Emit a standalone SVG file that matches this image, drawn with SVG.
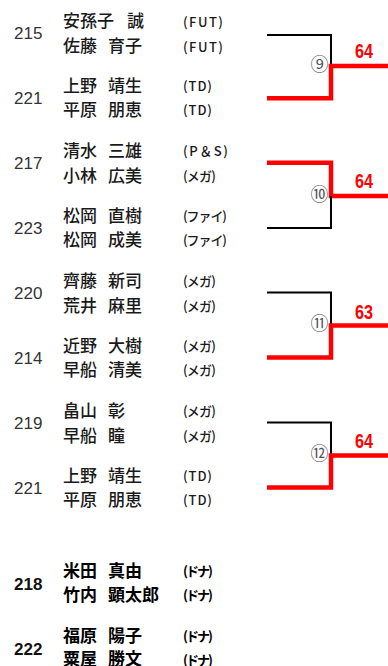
<svg xmlns="http://www.w3.org/2000/svg" width="388" height="666" viewBox="0 0 388 666">
<style>
.num{font-family:"Liberation Sans",Arial,sans-serif;font-size:17px;fill:#333}
.numb{font-family:"Liberation Sans",Arial,sans-serif;font-size:17px;font-weight:bold;fill:#111}
.nm{font-family:"Noto Sans CJK JP","Noto Sans",sans-serif;font-size:17px;font-weight:500;fill:#1a1a1a}
.nmb{font-family:"Noto Sans CJK JP","Noto Sans",sans-serif;font-size:17px;font-weight:bold;fill:#000}
.tag{font-family:"Noto Sans CJK JP","Noto Sans",sans-serif;font-size:13px;font-weight:500;fill:#1a1a1a}
.tagb{font-family:"Noto Sans CJK JP","Noto Sans",sans-serif;font-size:13px;font-weight:bold;fill:#000}
.mno{font-family:"Noto Sans CJK JP","DejaVu Sans",sans-serif;font-size:18px;fill:#555;text-anchor:middle}
.score{font-family:"Liberation Sans",Arial,sans-serif;font-size:20px;font-weight:bold;fill:#ff0000}
.lose{fill:none;stroke:#000;stroke-width:2;stroke-linejoin:miter}
.win{fill:none;stroke:#ff0000;stroke-width:4.5;stroke-linejoin:miter}
</style>
<rect width="388" height="666" fill="#fff"/>

<g id="entry-215">
<text class="num" x="14" y="39">215</text>
<text class="nm" x="63" y="26.5">安孫子</text><text class="nm" x="127" y="26.5">誠</text><text class="tag" x="183" y="26.5" textLength="40">(FUT)</text>
<text class="nm" x="63" y="51.5">佐藤</text><text class="nm" x="108" y="51.5">育子</text><text class="tag" x="183" y="51.5" textLength="40">(FUT)</text>
</g>
<g id="entry-221a">
<text class="num" x="14" y="104">221</text>
<text class="nm" x="63" y="91.5">上野</text><text class="nm" x="108" y="91.5">靖生</text><text class="tag" x="183" y="91" textLength="29">(TD)</text>
<text class="nm" x="63" y="115.5">平原</text><text class="nm" x="108" y="115.5">朋恵</text><text class="tag" x="183" y="115" textLength="29">(TD)</text>
</g>
<g id="entry-217">
<text class="num" x="14" y="169">217</text>
<text class="nm" x="63" y="156.5">清水</text><text class="nm" x="108" y="156.5">三雄</text><text class="tag" x="183" y="156" textLength="45">(P＆S)</text>
<text class="nm" x="63" y="181.5">小林</text><text class="nm" x="108" y="181.5">広美</text><text class="tag" x="183" y="181" textLength="33">(メガ)</text>
</g>
<g id="entry-223">
<text class="num" x="14" y="234">223</text>
<text class="nm" x="63" y="221.5">松岡</text><text class="nm" x="108" y="221.5">直樹</text><text class="tag" x="183" y="221" textLength="44">(ファイ)</text>
<text class="nm" x="63" y="245.5">松岡</text><text class="nm" x="108" y="245.5">成美</text><text class="tag" x="183" y="245" textLength="44">(ファイ)</text>
</g>
<g id="entry-220">
<text class="num" x="14" y="299">220</text>
<text class="nm" x="63" y="286.5">齊藤</text><text class="nm" x="108" y="286.5">新司</text><text class="tag" x="183" y="286" textLength="33">(メガ)</text>
<text class="nm" x="63" y="311.5">荒井</text><text class="nm" x="108" y="311.5">麻里</text><text class="tag" x="183" y="311" textLength="33">(メガ)</text>
</g>
<g id="entry-214">
<text class="num" x="14" y="364">214</text>
<text class="nm" x="63" y="351.5">近野</text><text class="nm" x="108" y="351.5">大樹</text><text class="tag" x="183" y="351" textLength="33">(メガ)</text>
<text class="nm" x="63" y="375.5">早船</text><text class="nm" x="108" y="375.5">清美</text><text class="tag" x="183" y="375" textLength="33">(メガ)</text>
</g>
<g id="entry-219">
<text class="num" x="14" y="429">219</text>
<text class="nm" x="63" y="416.5">畠山</text><text class="nm" x="108" y="416.5">彰</text><text class="tag" x="183" y="416" textLength="33">(メガ)</text>
<text class="nm" x="63" y="441.5">早船</text><text class="nm" x="108" y="441.5">瞳</text><text class="tag" x="183" y="441" textLength="33">(メガ)</text>
</g>
<g id="entry-221b">
<text class="num" x="14" y="494">221</text>
<text class="nm" x="63" y="481.5">上野</text><text class="nm" x="108" y="481.5">靖生</text><text class="tag" x="183" y="481" textLength="29">(TD)</text>
<text class="nm" x="63" y="505.5">平原</text><text class="nm" x="108" y="505.5">朋恵</text><text class="tag" x="183" y="505" textLength="29">(TD)</text>
</g>
<g id="entry-218">
<text class="numb" x="14" y="590">218</text>
<text class="nmb" x="63" y="576.5">米田</text><text class="nmb" x="108" y="576.5">真由</text><text class="tagb" x="183" y="576" textLength="30">(ドナ)</text>
<text class="nmb" x="63" y="600.5">竹内</text><text class="nmb" x="108" y="600.5">顕太郎</text><text class="tagb" x="183" y="600" textLength="30">(ドナ)</text>
</g>
<g id="entry-222">
<text class="numb" x="14" y="655">222</text>
<text class="nmb" x="63" y="641.5">福原</text><text class="nmb" x="108" y="641.5">陽子</text><text class="tagb" x="183" y="641" textLength="30">(ドナ)</text>
<text class="nmb" x="63" y="665">粟屋</text><text class="nmb" x="108" y="665">勝文</text><text class="tagb" x="183" y="664.5" textLength="30">(ドナ)</text>
</g>

<g id="connectors">
<path class="lose" d="M267,35 H331 V66"/>
<path class="win" d="M267,98.3 H331 V66 H388"/>
<path class="win" d="M267,162.8 H331 V196 H388"/>
<path class="lose" d="M267,228 H331 V196"/>
<path class="lose" d="M267,292.5 H331 V325.5"/>
<path class="win" d="M267,357.5 H331 V325.5 H388"/>
<path class="lose" d="M267,422.5 H331 V455.5"/>
<path class="win" d="M267,487.5 H331 V455.5 H388"/>
</g>

<g id="match-9">
<text class="mno" x="319.5" y="71">⑨</text>
<text class="score" x="355" y="57.5" textLength="18" lengthAdjust="spacingAndGlyphs">64</text>
</g>
<g id="match-10">
<text class="mno" x="319.5" y="201">⑩</text>
<text class="score" x="355" y="188" textLength="18" lengthAdjust="spacingAndGlyphs">64</text>
</g>
<g id="match-11">
<text class="mno" x="319.5" y="330">⑪</text>
<text class="score" x="355" y="319" textLength="18" lengthAdjust="spacingAndGlyphs">63</text>
</g>
<g id="match-12">
<text class="mno" x="319.5" y="460">⑫</text>
<text class="score" x="355" y="447.5" textLength="18" lengthAdjust="spacingAndGlyphs">64</text>
</g>
</svg>
